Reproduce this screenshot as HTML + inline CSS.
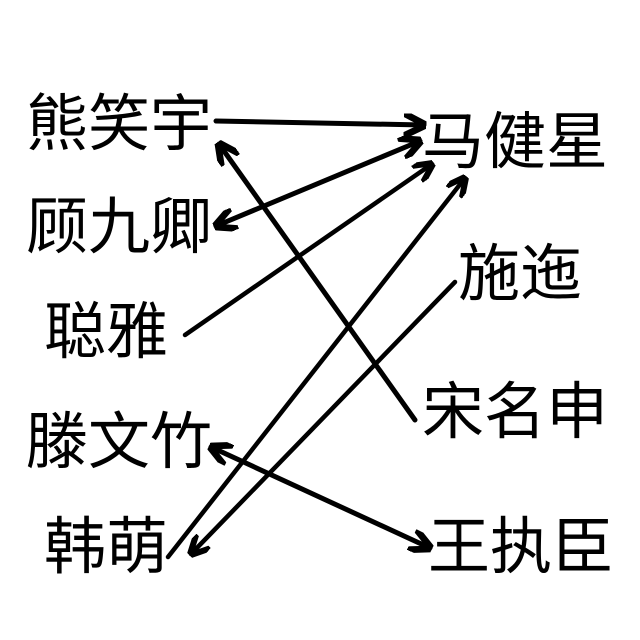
<!DOCTYPE html>
<html><head><meta charset="utf-8"><style>
html,body{margin:0;padding:0;background:#fff;width:640px;height:640px;overflow:hidden}
text{font-family:"Liberation Sans","Noto Sans CJK SC",sans-serif;font-size:62px;fill:#000}
</style></head><body>
<svg width="640" height="640" viewBox="0 0 640 640" xmlns="http://www.w3.org/2000/svg">
<defs>
<marker id="a" viewBox="0 0 10 10" refX="9" refY="5" markerWidth="4.5" markerHeight="4.5" orient="auto-start-reverse" markerUnits="strokeWidth">
<path d="M0,0 L10,5 L0,10" fill="none" stroke="#000" stroke-width="3"/>
</marker>
</defs>
<text x="26" y="145">熊笑宇</text>
<text x="26" y="248">顾九卿</text>
<text x="44" y="353">聪雅</text>
<text x="26" y="463">滕文竹</text>
<text x="44" y="568">韩萌</text>
<text x="422" y="163">马健星</text>
<text x="458" y="295">施迤</text>
<text x="422" y="433">宋名申</text>
<text x="428" y="568">王执臣</text>
<g stroke="#000" fill="none" stroke-linecap="round">
<line x1="216" y1="121" x2="424" y2="125" stroke-width="5" marker-end="url(#a)"/>
<line x1="420" y1="141" x2="216" y2="226" stroke-width="5" marker-start="url(#a)" marker-end="url(#a)"/>
<line x1="185" y1="335" x2="432" y2="164" stroke-width="4.5" marker-end="url(#a)"/>
<line x1="168" y1="557" x2="465" y2="178" stroke-width="4.5" marker-end="url(#a)"/>
<line x1="455" y1="282" x2="191" y2="554" stroke-width="4.5" marker-end="url(#a)"/>
<line x1="415" y1="420" x2="219" y2="144" stroke-width="5" marker-end="url(#a)"/>
<line x1="211" y1="447" x2="430" y2="548" stroke-width="5" marker-start="url(#a)" marker-end="url(#a)"/>
</g>
</svg>
</body></html>
